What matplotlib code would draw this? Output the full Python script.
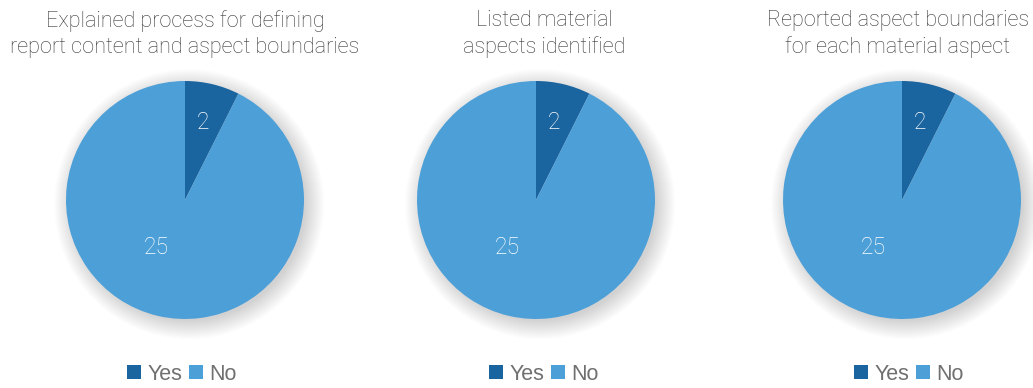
import numpy as np
import matplotlib.pyplot as plt
from matplotlib.patches import Circle

# disclosure counts per question: Yes / No
titles = ['Explained process for defining\nreport content and aspect boundaries',
          'Listed material\naspects identified',
          'Reported aspect boundaries\nfor each material aspect']
yes_counts = [2, 2, 2]
no_counts = [25, 25, 25]
labels = ['Yes', 'No']
colors = ['#1a649f', '#4d9fd7']

W, H = 1033, 388
fig = plt.figure(figsize=(W / 100, H / 100), dpi=100)

pie_cx = [185, 536, 902]
pie_cy = 200
pie_r = 119
title_cx = [185, 544, 898]
legend_cx = [182, 544, 909]

for i in range(3):
    cx = pie_cx[i]
    ax = fig.add_axes([(cx - pie_r) / W, (H - pie_cy - pie_r) / H, 2 * pie_r / W, 2 * pie_r / H])

    vals = [yes_counts[i], no_counts[i]]
    wedges, _ = ax.pie(vals, colors=colors, startangle=90, counterclock=False,
                       radius=1, wedgeprops=dict(linewidth=0))
    for w in wedges:
        w.set_zorder(2)
    ax.set_xlim(-1, 1)
    ax.set_ylim(-1, 1)
    ax.set_aspect('equal')
    ax.axis('off')

    # soft drop shadow, shifted down-right
    for k in range(15):
        ax.add_patch(Circle((0.035, -0.035), 0.98 + k * 0.011, color='black', alpha=0.012,
                            lw=0, zorder=0, clip_on=False))

    # value labels
    ax.text(18 / pie_r, 77 / pie_r, str(vals[0]), color='white', fontsize=16.5,
            ha='center', va='center', family='Roboto', weight='light', zorder=3)
    ax.text(-29 / pie_r, -48 / pie_r, str(vals[1]), color='white', fontsize=16.5,
            ha='center', va='center', family='Roboto', weight='light', zorder=3)

    fig.text(title_cx[i] / W, 1 - 34 / H, titles[i], ha='center', va='center',
             fontsize=15.6, color='#3a3a3a', family='Roboto', weight='light',
             linespacing=1.28)

    fig.legend(wedges, labels, loc='center', bbox_to_anchor=(legend_cx[i] / W, 1 - 374 / H),
               ncol=2, frameon=False, handlelength=0.65, handleheight=0.65,
               handletextpad=0.3, columnspacing=0.3,
               prop=dict(family='Liberation Sans', size=15.5), labelcolor='#707070',
               borderaxespad=0, borderpad=0)

fig.savefig('out.png', dpi=100, facecolor='white')
